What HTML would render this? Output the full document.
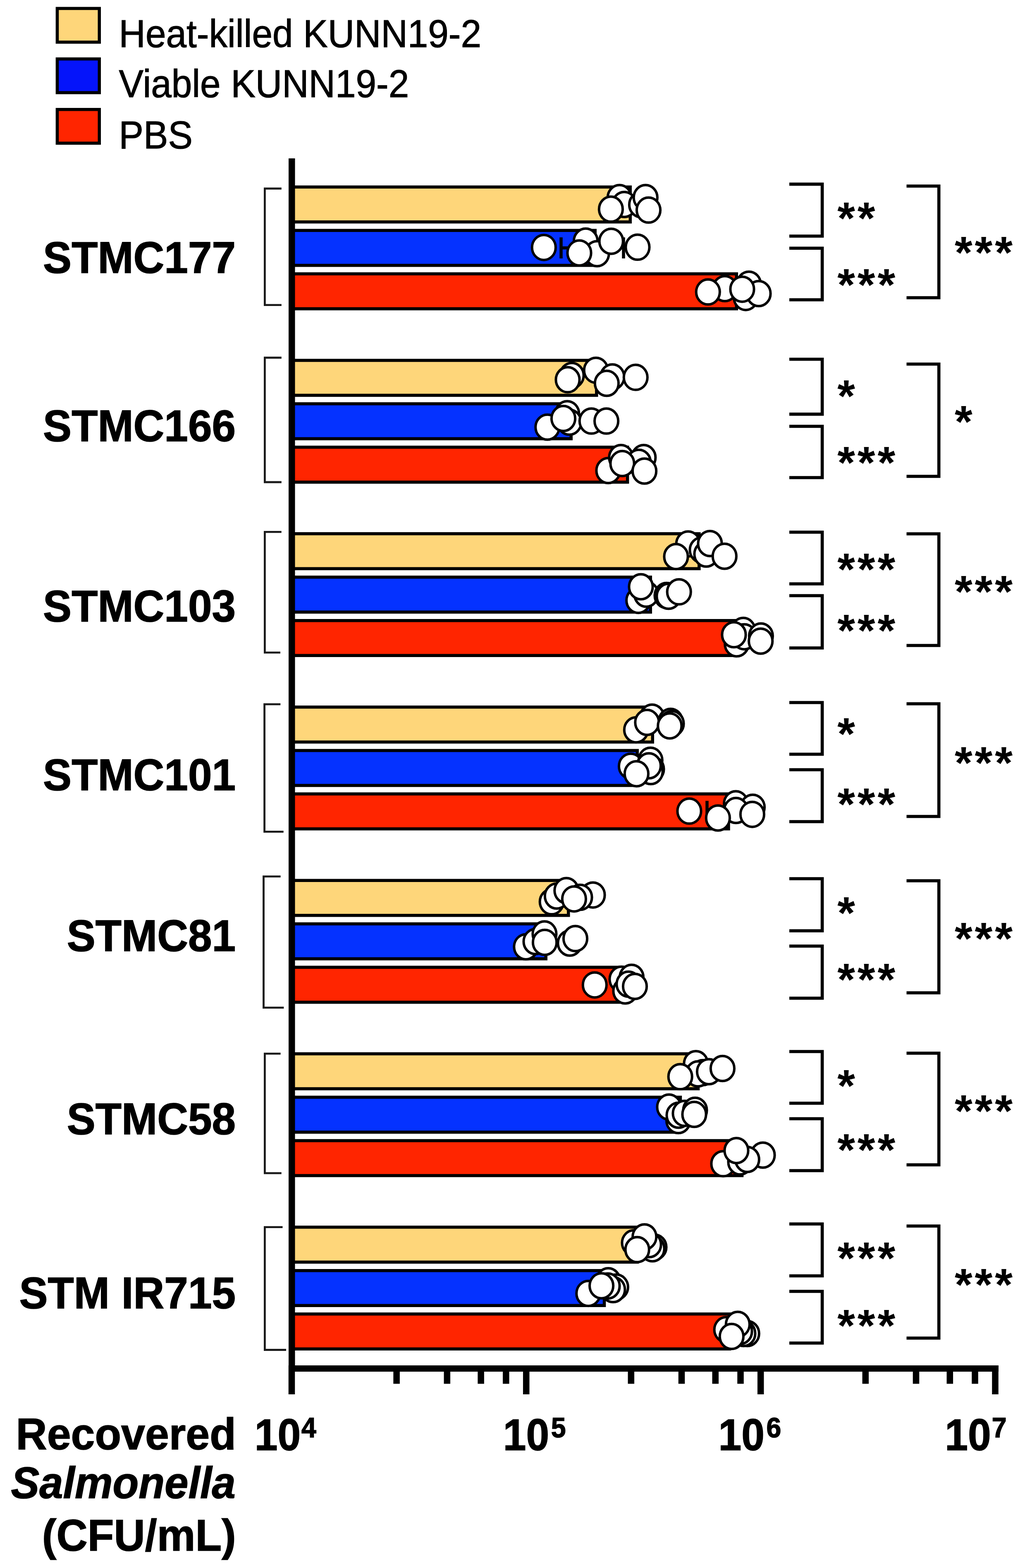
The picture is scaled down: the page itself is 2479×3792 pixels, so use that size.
<!DOCTYPE html>
<html lang="en"><head><meta charset="utf-8"><title>Recovered Salmonella bar chart</title>
<style>html,body{margin:0;padding:0;background:#fff;}body{width:2479px;height:3792px;overflow:hidden;}svg{display:block;}text{font-family:'Liberation Sans', Arial, Helvetica, sans-serif;fill:#000;}</style>
</head><body>
<svg width="2479" height="3792" viewBox="0 0 2479 3792">
<rect x="0" y="0" width="2479" height="3792" fill="#fff"/>
<rect x="138.45" y="20.45" width="101.80" height="81.50" fill="#FED67A" stroke="#000" stroke-width="7.5"/>
<text transform="translate(287.60 114.40) scale(0.935 1)" font-size="95.3" font-weight="normal" font-style="normal" text-anchor="start" stroke="#000" stroke-width="1.2">Heat-killed KUNN19-2</text>
<rect x="138.45" y="142.55" width="101.80" height="81.50" fill="#0514FA" stroke="#000" stroke-width="7.5"/>
<text transform="translate(287.60 235.20) scale(0.935 1)" font-size="95.3" font-weight="normal" font-style="normal" text-anchor="start" stroke="#000" stroke-width="1.2">Viable KUNN19-2</text>
<rect x="138.45" y="264.75" width="101.80" height="81.50" fill="#FF2500" stroke="#000" stroke-width="7.5"/>
<text transform="translate(287.60 358.60) scale(0.935 1)" font-size="95.3" font-weight="normal" font-style="normal" text-anchor="start" stroke="#000" stroke-width="1.2">PBS</text>
<path d="M680.80 456.00 H640.40 V737.70 H680.80" fill="none" stroke="#1a1a1a" stroke-width="4.8"/>
<path d="M680.80 865.00 H640.40 V1166.00 H680.80" fill="none" stroke="#1a1a1a" stroke-width="4.8"/>
<path d="M680.70 1286.40 H640.40 V1578.20 H678.00" fill="none" stroke="#1a1a1a" stroke-width="4.8"/>
<path d="M678.30 1703.20 H639.60 V2011.40 H685.70" fill="none" stroke="#1a1a1a" stroke-width="4.8"/>
<path d="M678.60 2119.60 H637.50 V2436.80 H686.40" fill="none" stroke="#1a1a1a" stroke-width="4.8"/>
<path d="M678.60 2548.20 H640.40 V2837.10 H680.70" fill="none" stroke="#1a1a1a" stroke-width="4.8"/>
<path d="M683.50 2967.70 H640.40 V3264.50 H692.00" fill="none" stroke="#1a1a1a" stroke-width="4.8"/>
<rect x="706.00" y="452.25" width="818.25" height="84.50" fill="#FED67A" stroke="#000" stroke-width="7.5"/>
<rect x="706.00" y="557.25" width="733.25" height="84.50" fill="#0532FF" stroke="#000" stroke-width="7.5"/>
<path d="M1357.00 574.00 V625.00 M1357.00 599.50 H1443.00" fill="none" stroke="#000" stroke-width="7.5"/>
<path d="M1508.00 574.00 V625.00 M1508.00 599.50 H1443.00" fill="none" stroke="#000" stroke-width="7.5"/>
<rect x="706.00" y="662.25" width="1075.25" height="84.50" fill="#FF2500" stroke="#000" stroke-width="7.5"/>
<rect x="706.00" y="871.50" width="736.75" height="84.50" fill="#FED67A" stroke="#000" stroke-width="7.5"/>
<rect x="706.00" y="976.50" width="675.25" height="84.50" fill="#0532FF" stroke="#000" stroke-width="7.5"/>
<rect x="706.00" y="1081.50" width="811.65" height="84.50" fill="#FF2500" stroke="#000" stroke-width="7.5"/>
<rect x="706.00" y="1290.75" width="984.85" height="84.50" fill="#FED67A" stroke="#000" stroke-width="7.5"/>
<rect x="706.00" y="1395.75" width="867.25" height="84.50" fill="#0532FF" stroke="#000" stroke-width="7.5"/>
<rect x="706.00" y="1500.75" width="1080.25" height="84.50" fill="#FF2500" stroke="#000" stroke-width="7.5"/>
<rect x="706.00" y="1710.00" width="872.25" height="84.50" fill="#FED67A" stroke="#000" stroke-width="7.5"/>
<rect x="706.00" y="1815.00" width="835.25" height="84.50" fill="#0532FF" stroke="#000" stroke-width="7.5"/>
<rect x="706.00" y="1920.00" width="1055.95" height="84.50" fill="#FF2500" stroke="#000" stroke-width="7.5"/>
<path d="M1710.00 1936.75 V1987.75 M1710.00 1962.25 H1765.70" fill="none" stroke="#000" stroke-width="7.5"/>
<rect x="706.00" y="2129.25" width="668.75" height="84.50" fill="#FED67A" stroke="#000" stroke-width="7.5"/>
<rect x="706.00" y="2234.25" width="614.25" height="84.50" fill="#0532FF" stroke="#000" stroke-width="7.5"/>
<rect x="706.00" y="2339.25" width="790.25" height="84.50" fill="#FF2500" stroke="#000" stroke-width="7.5"/>
<rect x="706.00" y="2548.50" width="982.45" height="84.50" fill="#FED67A" stroke="#000" stroke-width="7.5"/>
<rect x="706.00" y="2653.50" width="939.45" height="84.50" fill="#0532FF" stroke="#000" stroke-width="7.5"/>
<rect x="706.00" y="2758.50" width="1088.55" height="84.50" fill="#FF2500" stroke="#000" stroke-width="7.5"/>
<path d="M1780.00 2775.25 V2826.25 M1780.00 2800.75 H1798.30" fill="none" stroke="#000" stroke-width="7.5"/>
<rect x="706.00" y="2967.75" width="835.25" height="84.50" fill="#FED67A" stroke="#000" stroke-width="7.5"/>
<rect x="706.00" y="3072.75" width="755.55" height="84.50" fill="#0532FF" stroke="#000" stroke-width="7.5"/>
<rect x="706.00" y="3177.75" width="1058.25" height="84.50" fill="#FF2500" stroke="#000" stroke-width="7.5"/>
<ellipse cx="1498.30" cy="477.80" rx="28.59" ry="30.25" fill="#fff" stroke="#000" stroke-width="6"/>
<ellipse cx="1509.80" cy="494.50" rx="28.59" ry="30.25" fill="#fff" stroke="#000" stroke-width="6"/>
<ellipse cx="1477.40" cy="505.80" rx="28.59" ry="30.25" fill="#fff" stroke="#000" stroke-width="6"/>
<ellipse cx="1550.50" cy="495.00" rx="28.59" ry="30.25" fill="#fff" stroke="#000" stroke-width="6"/>
<ellipse cx="1561.30" cy="477.80" rx="28.59" ry="30.25" fill="#fff" stroke="#000" stroke-width="6"/>
<ellipse cx="1568.50" cy="508.10" rx="28.59" ry="30.25" fill="#fff" stroke="#000" stroke-width="6"/>
<ellipse cx="1315.30" cy="598.40" rx="28.59" ry="30.25" fill="#fff" stroke="#000" stroke-width="6"/>
<ellipse cx="1416.50" cy="583.00" rx="28.59" ry="30.25" fill="#fff" stroke="#000" stroke-width="6"/>
<ellipse cx="1444.00" cy="613.50" rx="28.59" ry="30.25" fill="#fff" stroke="#000" stroke-width="6"/>
<ellipse cx="1401.00" cy="611.70" rx="28.59" ry="30.25" fill="#fff" stroke="#000" stroke-width="6"/>
<ellipse cx="1478.20" cy="583.50" rx="28.59" ry="30.25" fill="#fff" stroke="#000" stroke-width="6"/>
<ellipse cx="1542.00" cy="597.80" rx="28.59" ry="30.25" fill="#fff" stroke="#000" stroke-width="6"/>
<ellipse cx="1753.00" cy="698.00" rx="28.59" ry="30.25" fill="#fff" stroke="#000" stroke-width="6"/>
<ellipse cx="1811.30" cy="687.20" rx="28.59" ry="30.25" fill="#fff" stroke="#000" stroke-width="6"/>
<ellipse cx="1803.50" cy="719.40" rx="28.59" ry="30.25" fill="#fff" stroke="#000" stroke-width="6"/>
<ellipse cx="1835.00" cy="710.00" rx="28.59" ry="30.25" fill="#fff" stroke="#000" stroke-width="6"/>
<ellipse cx="1712.30" cy="706.10" rx="28.59" ry="30.25" fill="#fff" stroke="#000" stroke-width="6"/>
<ellipse cx="1795.00" cy="699.40" rx="28.59" ry="30.25" fill="#fff" stroke="#000" stroke-width="6"/>
<ellipse cx="1383.00" cy="908.00" rx="28.59" ry="30.25" fill="#fff" stroke="#000" stroke-width="6"/>
<ellipse cx="1373.00" cy="918.30" rx="28.59" ry="30.25" fill="#fff" stroke="#000" stroke-width="6"/>
<ellipse cx="1441.30" cy="895.40" rx="28.59" ry="30.25" fill="#fff" stroke="#000" stroke-width="6"/>
<ellipse cx="1481.00" cy="911.50" rx="28.59" ry="30.25" fill="#fff" stroke="#000" stroke-width="6"/>
<ellipse cx="1467.40" cy="927.00" rx="28.59" ry="30.25" fill="#fff" stroke="#000" stroke-width="6"/>
<ellipse cx="1537.30" cy="912.60" rx="28.59" ry="30.25" fill="#fff" stroke="#000" stroke-width="6"/>
<ellipse cx="1323.80" cy="1033.00" rx="28.59" ry="30.25" fill="#fff" stroke="#000" stroke-width="6"/>
<ellipse cx="1371.80" cy="1000.40" rx="28.59" ry="30.25" fill="#fff" stroke="#000" stroke-width="6"/>
<ellipse cx="1377.00" cy="1021.00" rx="28.59" ry="30.25" fill="#fff" stroke="#000" stroke-width="6"/>
<ellipse cx="1362.50" cy="1012.00" rx="28.59" ry="30.25" fill="#fff" stroke="#000" stroke-width="6"/>
<ellipse cx="1430.30" cy="1018.30" rx="28.59" ry="30.25" fill="#fff" stroke="#000" stroke-width="6"/>
<ellipse cx="1466.60" cy="1018.30" rx="28.59" ry="30.25" fill="#fff" stroke="#000" stroke-width="6"/>
<ellipse cx="1471.00" cy="1138.00" rx="28.59" ry="30.25" fill="#fff" stroke="#000" stroke-width="6"/>
<ellipse cx="1501.80" cy="1106.50" rx="28.59" ry="30.25" fill="#fff" stroke="#000" stroke-width="6"/>
<ellipse cx="1556.80" cy="1106.50" rx="28.59" ry="30.25" fill="#fff" stroke="#000" stroke-width="6"/>
<ellipse cx="1545.00" cy="1118.00" rx="28.59" ry="30.25" fill="#fff" stroke="#000" stroke-width="6"/>
<ellipse cx="1505.00" cy="1121.00" rx="28.59" ry="30.25" fill="#fff" stroke="#000" stroke-width="6"/>
<ellipse cx="1558.60" cy="1139.20" rx="28.59" ry="30.25" fill="#fff" stroke="#000" stroke-width="6"/>
<ellipse cx="1664.20" cy="1315.40" rx="28.59" ry="30.25" fill="#fff" stroke="#000" stroke-width="6"/>
<ellipse cx="1697.00" cy="1330.00" rx="28.59" ry="30.25" fill="#fff" stroke="#000" stroke-width="6"/>
<ellipse cx="1708.00" cy="1340.00" rx="28.59" ry="30.25" fill="#fff" stroke="#000" stroke-width="6"/>
<ellipse cx="1635.00" cy="1346.00" rx="28.59" ry="30.25" fill="#fff" stroke="#000" stroke-width="6"/>
<ellipse cx="1717.00" cy="1314.50" rx="28.59" ry="30.25" fill="#fff" stroke="#000" stroke-width="6"/>
<ellipse cx="1752.30" cy="1345.20" rx="28.59" ry="30.25" fill="#fff" stroke="#000" stroke-width="6"/>
<ellipse cx="1543.70" cy="1452.00" rx="28.59" ry="30.25" fill="#fff" stroke="#000" stroke-width="6"/>
<ellipse cx="1563.00" cy="1437.00" rx="28.59" ry="30.25" fill="#fff" stroke="#000" stroke-width="6"/>
<ellipse cx="1550.00" cy="1419.00" rx="28.59" ry="30.25" fill="#fff" stroke="#000" stroke-width="6"/>
<ellipse cx="1612.00" cy="1440.00" rx="28.59" ry="30.25" fill="#fff" stroke="#000" stroke-width="6"/>
<ellipse cx="1617.00" cy="1442.00" rx="28.59" ry="30.25" fill="#fff" stroke="#000" stroke-width="6"/>
<ellipse cx="1642.20" cy="1431.30" rx="28.59" ry="30.25" fill="#fff" stroke="#000" stroke-width="6"/>
<ellipse cx="1797.60" cy="1524.60" rx="28.59" ry="30.25" fill="#fff" stroke="#000" stroke-width="6"/>
<ellipse cx="1781.70" cy="1557.00" rx="28.59" ry="30.25" fill="#fff" stroke="#000" stroke-width="6"/>
<ellipse cx="1800.00" cy="1540.00" rx="28.59" ry="30.25" fill="#fff" stroke="#000" stroke-width="6"/>
<ellipse cx="1775.00" cy="1535.00" rx="28.59" ry="30.25" fill="#fff" stroke="#000" stroke-width="6"/>
<ellipse cx="1840.40" cy="1538.00" rx="28.59" ry="30.25" fill="#fff" stroke="#000" stroke-width="6"/>
<ellipse cx="1839.70" cy="1550.50" rx="28.59" ry="30.25" fill="#fff" stroke="#000" stroke-width="6"/>
<ellipse cx="1538.40" cy="1765.00" rx="28.59" ry="30.25" fill="#fff" stroke="#000" stroke-width="6"/>
<ellipse cx="1577.00" cy="1734.20" rx="28.59" ry="30.25" fill="#fff" stroke="#000" stroke-width="6"/>
<ellipse cx="1621.90" cy="1744.50" rx="28.59" ry="30.25" fill="#fff" stroke="#000" stroke-width="6"/>
<ellipse cx="1625.00" cy="1750.00" rx="28.59" ry="30.25" fill="#fff" stroke="#000" stroke-width="6"/>
<ellipse cx="1564.90" cy="1747.00" rx="28.59" ry="30.25" fill="#fff" stroke="#000" stroke-width="6"/>
<ellipse cx="1619.80" cy="1755.50" rx="28.59" ry="30.25" fill="#fff" stroke="#000" stroke-width="6"/>
<ellipse cx="1525.50" cy="1852.90" rx="28.59" ry="30.25" fill="#fff" stroke="#000" stroke-width="6"/>
<ellipse cx="1573.20" cy="1838.60" rx="28.59" ry="30.25" fill="#fff" stroke="#000" stroke-width="6"/>
<ellipse cx="1577.00" cy="1860.00" rx="28.59" ry="30.25" fill="#fff" stroke="#000" stroke-width="6"/>
<ellipse cx="1574.00" cy="1866.00" rx="28.59" ry="30.25" fill="#fff" stroke="#000" stroke-width="6"/>
<ellipse cx="1569.40" cy="1852.00" rx="28.59" ry="30.25" fill="#fff" stroke="#000" stroke-width="6"/>
<ellipse cx="1539.40" cy="1871.20" rx="28.59" ry="30.25" fill="#fff" stroke="#000" stroke-width="6"/>
<ellipse cx="1667.00" cy="1961.60" rx="28.59" ry="30.25" fill="#fff" stroke="#000" stroke-width="6"/>
<ellipse cx="1779.60" cy="1943.70" rx="28.59" ry="30.25" fill="#fff" stroke="#000" stroke-width="6"/>
<ellipse cx="1820.50" cy="1952.20" rx="28.59" ry="30.25" fill="#fff" stroke="#000" stroke-width="6"/>
<ellipse cx="1780.00" cy="1960.00" rx="28.59" ry="30.25" fill="#fff" stroke="#000" stroke-width="6"/>
<ellipse cx="1736.40" cy="1978.20" rx="28.59" ry="30.25" fill="#fff" stroke="#000" stroke-width="6"/>
<ellipse cx="1819.40" cy="1969.40" rx="28.59" ry="30.25" fill="#fff" stroke="#000" stroke-width="6"/>
<ellipse cx="1334.20" cy="2180.80" rx="28.59" ry="30.25" fill="#fff" stroke="#000" stroke-width="6"/>
<ellipse cx="1346.40" cy="2167.00" rx="28.59" ry="30.25" fill="#fff" stroke="#000" stroke-width="6"/>
<ellipse cx="1369.80" cy="2153.70" rx="28.59" ry="30.25" fill="#fff" stroke="#000" stroke-width="6"/>
<ellipse cx="1434.00" cy="2164.40" rx="28.59" ry="30.25" fill="#fff" stroke="#000" stroke-width="6"/>
<ellipse cx="1403.00" cy="2170.00" rx="28.59" ry="30.25" fill="#fff" stroke="#000" stroke-width="6"/>
<ellipse cx="1388.40" cy="2173.90" rx="28.59" ry="30.25" fill="#fff" stroke="#000" stroke-width="6"/>
<ellipse cx="1271.90" cy="2289.70" rx="28.59" ry="30.25" fill="#fff" stroke="#000" stroke-width="6"/>
<ellipse cx="1295.00" cy="2277.00" rx="28.59" ry="30.25" fill="#fff" stroke="#000" stroke-width="6"/>
<ellipse cx="1316.90" cy="2258.60" rx="28.59" ry="30.25" fill="#fff" stroke="#000" stroke-width="6"/>
<ellipse cx="1317.50" cy="2279.00" rx="28.59" ry="30.25" fill="#fff" stroke="#000" stroke-width="6"/>
<ellipse cx="1378.00" cy="2280.70" rx="28.59" ry="30.25" fill="#fff" stroke="#000" stroke-width="6"/>
<ellipse cx="1391.50" cy="2269.80" rx="28.59" ry="30.25" fill="#fff" stroke="#000" stroke-width="6"/>
<ellipse cx="1503.00" cy="2368.00" rx="28.59" ry="30.25" fill="#fff" stroke="#000" stroke-width="6"/>
<ellipse cx="1512.00" cy="2396.50" rx="28.59" ry="30.25" fill="#fff" stroke="#000" stroke-width="6"/>
<ellipse cx="1438.30" cy="2381.90" rx="28.59" ry="30.25" fill="#fff" stroke="#000" stroke-width="6"/>
<ellipse cx="1527.50" cy="2363.50" rx="28.59" ry="30.25" fill="#fff" stroke="#000" stroke-width="6"/>
<ellipse cx="1520.00" cy="2380.00" rx="28.59" ry="30.25" fill="#fff" stroke="#000" stroke-width="6"/>
<ellipse cx="1535.50" cy="2385.50" rx="28.59" ry="30.25" fill="#fff" stroke="#000" stroke-width="6"/>
<ellipse cx="1683.00" cy="2572.20" rx="28.59" ry="30.25" fill="#fff" stroke="#000" stroke-width="6"/>
<ellipse cx="1700.00" cy="2594.00" rx="28.59" ry="30.25" fill="#fff" stroke="#000" stroke-width="6"/>
<ellipse cx="1688.00" cy="2597.00" rx="28.59" ry="30.25" fill="#fff" stroke="#000" stroke-width="6"/>
<ellipse cx="1645.20" cy="2603.80" rx="28.59" ry="30.25" fill="#fff" stroke="#000" stroke-width="6"/>
<ellipse cx="1714.50" cy="2591.70" rx="28.59" ry="30.25" fill="#fff" stroke="#000" stroke-width="6"/>
<ellipse cx="1747.40" cy="2584.00" rx="28.59" ry="30.25" fill="#fff" stroke="#000" stroke-width="6"/>
<ellipse cx="1618.00" cy="2677.20" rx="28.59" ry="30.25" fill="#fff" stroke="#000" stroke-width="6"/>
<ellipse cx="1640.50" cy="2710.00" rx="28.59" ry="30.25" fill="#fff" stroke="#000" stroke-width="6"/>
<ellipse cx="1641.00" cy="2697.00" rx="28.59" ry="30.25" fill="#fff" stroke="#000" stroke-width="6"/>
<ellipse cx="1656.00" cy="2692.60" rx="28.59" ry="30.25" fill="#fff" stroke="#000" stroke-width="6"/>
<ellipse cx="1681.00" cy="2685.00" rx="28.59" ry="30.25" fill="#fff" stroke="#000" stroke-width="6"/>
<ellipse cx="1679.00" cy="2695.00" rx="28.59" ry="30.25" fill="#fff" stroke="#000" stroke-width="6"/>
<ellipse cx="1845.00" cy="2793.50" rx="28.59" ry="30.25" fill="#fff" stroke="#000" stroke-width="6"/>
<ellipse cx="1749.00" cy="2814.30" rx="28.59" ry="30.25" fill="#fff" stroke="#000" stroke-width="6"/>
<ellipse cx="1790.00" cy="2810.00" rx="28.59" ry="30.25" fill="#fff" stroke="#000" stroke-width="6"/>
<ellipse cx="1807.30" cy="2804.00" rx="28.59" ry="30.25" fill="#fff" stroke="#000" stroke-width="6"/>
<ellipse cx="1781.00" cy="2782.50" rx="28.59" ry="30.25" fill="#fff" stroke="#000" stroke-width="6"/>
<ellipse cx="1583.00" cy="3016.00" rx="28.59" ry="30.25" fill="#fff" stroke="#000" stroke-width="6"/>
<ellipse cx="1578.00" cy="3020.00" rx="28.59" ry="30.25" fill="#fff" stroke="#000" stroke-width="6"/>
<ellipse cx="1570.00" cy="3010.00" rx="28.59" ry="30.25" fill="#fff" stroke="#000" stroke-width="6"/>
<ellipse cx="1533.00" cy="3005.60" rx="28.59" ry="30.25" fill="#fff" stroke="#000" stroke-width="6"/>
<ellipse cx="1558.70" cy="2991.20" rx="28.59" ry="30.25" fill="#fff" stroke="#000" stroke-width="6"/>
<ellipse cx="1541.20" cy="3022.00" rx="28.59" ry="30.25" fill="#fff" stroke="#000" stroke-width="6"/>
<ellipse cx="1471.00" cy="3097.30" rx="28.59" ry="30.25" fill="#fff" stroke="#000" stroke-width="6"/>
<ellipse cx="1490.40" cy="3112.60" rx="28.59" ry="30.25" fill="#fff" stroke="#000" stroke-width="6"/>
<ellipse cx="1482.80" cy="3118.70" rx="28.59" ry="30.25" fill="#fff" stroke="#000" stroke-width="6"/>
<ellipse cx="1470.00" cy="3110.00" rx="28.59" ry="30.25" fill="#fff" stroke="#000" stroke-width="6"/>
<ellipse cx="1422.80" cy="3127.90" rx="28.59" ry="30.25" fill="#fff" stroke="#000" stroke-width="6"/>
<ellipse cx="1454.60" cy="3109.50" rx="28.59" ry="30.25" fill="#fff" stroke="#000" stroke-width="6"/>
<ellipse cx="1807.30" cy="3225.00" rx="28.59" ry="30.25" fill="#fff" stroke="#000" stroke-width="6"/>
<ellipse cx="1798.00" cy="3225.00" rx="28.59" ry="30.25" fill="#fff" stroke="#000" stroke-width="6"/>
<ellipse cx="1790.00" cy="3220.00" rx="28.59" ry="30.25" fill="#fff" stroke="#000" stroke-width="6"/>
<ellipse cx="1756.20" cy="3215.60" rx="28.59" ry="30.25" fill="#fff" stroke="#000" stroke-width="6"/>
<ellipse cx="1784.30" cy="3202.80" rx="28.59" ry="30.25" fill="#fff" stroke="#000" stroke-width="6"/>
<ellipse cx="1769.40" cy="3232.00" rx="28.59" ry="30.25" fill="#fff" stroke="#000" stroke-width="6"/>
<rect x="698.00" y="383.00" width="15.50" height="2934.20" fill="#000"/>
<rect x="698.00" y="3302.00" width="1717.00" height="15.20" fill="#000"/>
<rect x="697.75" y="3302.00" width="15.50" height="70.00" fill="#000"/>
<rect x="1264.95" y="3302.00" width="15.50" height="70.00" fill="#000"/>
<rect x="1831.95" y="3302.00" width="15.50" height="70.00" fill="#000"/>
<rect x="2399.25" y="3302.00" width="15.50" height="70.00" fill="#000"/>
<rect x="951.35" y="3302.00" width="15.50" height="44.50" fill="#000"/>
<rect x="1073.55" y="3302.00" width="15.50" height="44.50" fill="#000"/>
<rect x="1155.35" y="3302.00" width="15.50" height="44.50" fill="#000"/>
<rect x="1216.05" y="3302.00" width="15.50" height="44.50" fill="#000"/>
<rect x="1518.55" y="3302.00" width="15.50" height="44.50" fill="#000"/>
<rect x="1640.75" y="3302.00" width="15.50" height="44.50" fill="#000"/>
<rect x="1722.55" y="3302.00" width="15.50" height="44.50" fill="#000"/>
<rect x="1783.25" y="3302.00" width="15.50" height="44.50" fill="#000"/>
<rect x="2085.55" y="3302.00" width="15.50" height="44.50" fill="#000"/>
<rect x="2207.75" y="3302.00" width="15.50" height="44.50" fill="#000"/>
<rect x="2289.55" y="3302.00" width="15.50" height="44.50" fill="#000"/>
<rect x="2350.25" y="3302.00" width="15.50" height="44.50" fill="#000"/>
<path d="M1909.00 445.40 H1988.60 V571.00 H1909.00" fill="none" stroke="#000" stroke-width="7.6"/>
<path d="M1909.00 600.20 H1988.60 V725.00 H1909.00" fill="none" stroke="#000" stroke-width="7.6"/>
<path d="M2192.50 450.00 H2270.70 V720.00 H2192.50" fill="none" stroke="#000" stroke-width="7.6"/>
<text transform="translate(2025.18 565.32) scale(1.01 1)" font-size="108.9" font-weight="bold" font-style="normal" text-anchor="start" letter-spacing="5.8">**</text>
<text transform="translate(2025.18 725.92) scale(1.01 1)" font-size="108.9" font-weight="bold" font-style="normal" text-anchor="start" letter-spacing="5.8">***</text>
<text transform="translate(2308.88 648.12) scale(1.01 1)" font-size="108.9" font-weight="bold" font-style="normal" text-anchor="start" letter-spacing="5.8">***</text>
<path d="M1909.00 868.80 H1988.60 V1001.60 H1909.00" fill="none" stroke="#000" stroke-width="7.6"/>
<path d="M1909.00 1031.00 H1988.60 V1155.00 H1909.00" fill="none" stroke="#000" stroke-width="7.6"/>
<path d="M2192.50 880.50 H2270.70 V1152.00 H2192.50" fill="none" stroke="#000" stroke-width="7.6"/>
<text transform="translate(2025.18 994.92) scale(1.01 1)" font-size="108.9" font-weight="bold" font-style="normal" text-anchor="start" letter-spacing="5.8">*</text>
<text transform="translate(2025.18 1155.52) scale(1.01 1)" font-size="108.9" font-weight="bold" font-style="normal" text-anchor="start" letter-spacing="5.8">***</text>
<text transform="translate(2308.88 1057.32) scale(1.01 1)" font-size="108.9" font-weight="bold" font-style="normal" text-anchor="start" letter-spacing="5.8">*</text>
<path d="M1909.00 1287.00 H1988.60 V1412.00 H1909.00" fill="none" stroke="#000" stroke-width="7.6"/>
<path d="M1909.00 1440.50 H1988.60 V1567.00 H1909.00" fill="none" stroke="#000" stroke-width="7.6"/>
<path d="M2192.50 1291.00 H2270.70 V1561.00 H2192.50" fill="none" stroke="#000" stroke-width="7.6"/>
<text transform="translate(2025.18 1413.92) scale(1.01 1)" font-size="108.9" font-weight="bold" font-style="normal" text-anchor="start" letter-spacing="5.8">***</text>
<text transform="translate(2025.18 1561.92) scale(1.01 1)" font-size="108.9" font-weight="bold" font-style="normal" text-anchor="start" letter-spacing="5.8">***</text>
<text transform="translate(2308.88 1467.72) scale(1.01 1)" font-size="108.9" font-weight="bold" font-style="normal" text-anchor="start" letter-spacing="5.8">***</text>
<path d="M1909.00 1699.00 H1988.60 V1824.00 H1909.00" fill="none" stroke="#000" stroke-width="7.6"/>
<path d="M1909.00 1861.50 H1988.60 V1987.00 H1909.00" fill="none" stroke="#000" stroke-width="7.6"/>
<path d="M2192.50 1702.00 H2270.70 V1974.50 H2192.50" fill="none" stroke="#000" stroke-width="7.6"/>
<text transform="translate(2025.18 1811.92) scale(1.01 1)" font-size="108.9" font-weight="bold" font-style="normal" text-anchor="start" letter-spacing="5.8">*</text>
<text transform="translate(2025.18 1981.92) scale(1.01 1)" font-size="108.9" font-weight="bold" font-style="normal" text-anchor="start" letter-spacing="5.8">***</text>
<text transform="translate(2308.88 1881.92) scale(1.01 1)" font-size="108.9" font-weight="bold" font-style="normal" text-anchor="start" letter-spacing="5.8">***</text>
<path d="M1909.00 2125.00 H1988.60 V2251.00 H1909.00" fill="none" stroke="#000" stroke-width="7.6"/>
<path d="M1909.00 2288.00 H1988.60 V2414.00 H1909.00" fill="none" stroke="#000" stroke-width="7.6"/>
<path d="M2192.50 2130.00 H2270.70 V2401.00 H2192.50" fill="none" stroke="#000" stroke-width="7.6"/>
<text transform="translate(2025.18 2245.32) scale(1.01 1)" font-size="108.9" font-weight="bold" font-style="normal" text-anchor="start" letter-spacing="5.8">*</text>
<text transform="translate(2025.18 2405.92) scale(1.01 1)" font-size="108.9" font-weight="bold" font-style="normal" text-anchor="start" letter-spacing="5.8">***</text>
<text transform="translate(2308.88 2306.52) scale(1.01 1)" font-size="108.9" font-weight="bold" font-style="normal" text-anchor="start" letter-spacing="5.8">***</text>
<path d="M1909.00 2543.00 H1988.60 V2668.00 H1909.00" fill="none" stroke="#000" stroke-width="7.6"/>
<path d="M1909.00 2705.50 H1988.60 V2831.00 H1909.00" fill="none" stroke="#000" stroke-width="7.6"/>
<path d="M2192.50 2547.00 H2270.70 V2817.00 H2192.50" fill="none" stroke="#000" stroke-width="7.6"/>
<text transform="translate(2025.18 2663.42) scale(1.01 1)" font-size="108.9" font-weight="bold" font-style="normal" text-anchor="start" letter-spacing="5.8">*</text>
<text transform="translate(2025.18 2818.12) scale(1.01 1)" font-size="108.9" font-weight="bold" font-style="normal" text-anchor="start" letter-spacing="5.8">***</text>
<text transform="translate(2308.88 2723.92) scale(1.01 1)" font-size="108.9" font-weight="bold" font-style="normal" text-anchor="start" letter-spacing="5.8">***</text>
<path d="M1909.00 2960.00 H1988.60 V3085.50 H1909.00" fill="none" stroke="#000" stroke-width="7.6"/>
<path d="M1909.00 3123.00 H1988.60 V3248.00 H1909.00" fill="none" stroke="#000" stroke-width="7.6"/>
<path d="M2192.50 2965.00 H2270.70 V3236.00 H2192.50" fill="none" stroke="#000" stroke-width="7.6"/>
<text transform="translate(2025.18 3080.32) scale(1.01 1)" font-size="108.9" font-weight="bold" font-style="normal" text-anchor="start" letter-spacing="5.8">***</text>
<text transform="translate(2025.18 3242.82) scale(1.01 1)" font-size="108.9" font-weight="bold" font-style="normal" text-anchor="start" letter-spacing="5.8">***</text>
<text transform="translate(2308.88 3143.92) scale(1.01 1)" font-size="108.9" font-weight="bold" font-style="normal" text-anchor="start" letter-spacing="5.8">***</text>
<text transform="translate(570.10 660.30) scale(0.957 1)" font-size="108.2" font-weight="bold" font-style="normal" text-anchor="end" stroke="#000" stroke-width="1.6">STMC177</text>
<text transform="translate(570.10 1066.80) scale(0.957 1)" font-size="108.2" font-weight="bold" font-style="normal" text-anchor="end" stroke="#000" stroke-width="1.6">STMC166</text>
<text transform="translate(570.10 1502.60) scale(0.957 1)" font-size="108.2" font-weight="bold" font-style="normal" text-anchor="end" stroke="#000" stroke-width="1.6">STMC103</text>
<text transform="translate(570.10 1910.70) scale(0.957 1)" font-size="108.2" font-weight="bold" font-style="normal" text-anchor="end" stroke="#000" stroke-width="1.6">STMC101</text>
<text transform="translate(570.10 2299.90) scale(0.957 1)" font-size="108.2" font-weight="bold" font-style="normal" text-anchor="end" stroke="#000" stroke-width="1.6">STMC81</text>
<text transform="translate(570.10 2742.60) scale(0.957 1)" font-size="108.2" font-weight="bold" font-style="normal" text-anchor="end" stroke="#000" stroke-width="1.6">STMC58</text>
<text transform="translate(570.10 3163.80) scale(0.957 1)" font-size="108.2" font-weight="bold" font-style="normal" text-anchor="end" stroke="#000" stroke-width="1.6">STM IR715</text>
<text transform="translate(615.63 3506.50) scale(0.937 1)" font-size="107" font-weight="bold" font-style="normal" text-anchor="start" stroke="#000" stroke-width="1.6">10</text>
<text transform="translate(728.98 3476.20) scale(0.94 1)" font-size="68.5" font-weight="bold" font-style="normal" text-anchor="start" stroke="#000" stroke-width="1.6">4</text>
<text transform="translate(1216.73 3506.50) scale(0.937 1)" font-size="107" font-weight="bold" font-style="normal" text-anchor="start" stroke="#000" stroke-width="1.6">10</text>
<text transform="translate(1332.87 3476.20) scale(0.94 1)" font-size="68.5" font-weight="bold" font-style="normal" text-anchor="start" stroke="#000" stroke-width="1.6">5</text>
<text transform="translate(1737.53 3506.50) scale(0.937 1)" font-size="107" font-weight="bold" font-style="normal" text-anchor="start" stroke="#000" stroke-width="1.6">10</text>
<text transform="translate(1853.40 3476.20) scale(0.94 1)" font-size="68.5" font-weight="bold" font-style="normal" text-anchor="start" stroke="#000" stroke-width="1.6">6</text>
<text transform="translate(2285.23 3506.50) scale(0.937 1)" font-size="107" font-weight="bold" font-style="normal" text-anchor="start" stroke="#000" stroke-width="1.6">10</text>
<text transform="translate(2398.68 3476.20) scale(0.94 1)" font-size="68.5" font-weight="bold" font-style="normal" text-anchor="start" stroke="#000" stroke-width="1.6">7</text>
<text transform="translate(570.80 3505.00) scale(0.962 1)" font-size="108.2" font-weight="bold" font-style="normal" text-anchor="end" stroke="#000" stroke-width="1.6">Recovered</text>
<text transform="translate(569.80 3623.00) scale(0.951 1)" font-size="108.2" font-weight="bold" font-style="italic" text-anchor="end" stroke="#000" stroke-width="1.6">Salmonella</text>
<text transform="translate(570.80 3750.20) scale(0.9635 1)" font-size="108.2" font-weight="bold" font-style="normal" text-anchor="end" stroke="#000" stroke-width="1.6">(CFU/mL)</text>
</svg>
</body></html>
